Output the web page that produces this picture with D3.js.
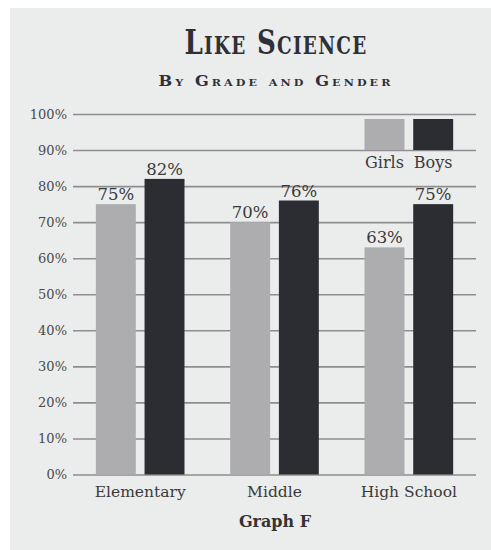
<!DOCTYPE html>
<html><head><meta charset="utf-8">
<script src="https://cdn.jsdelivr.net/npm/d3@7"></script>
<style>html,body{margin:0;padding:0;background:#fff;}svg{display:block;}</style>
</head><body>
<script>
const categories = ["Elementary", "Middle", "High School"];
const seriesNames = ["Girls", "Boys"];
const girls = [75, 70, 63];
const boys = [82, 76, 75];
const yTicks = [0, 10, 20, 30, 40, 50, 60, 70, 80, 90, 100];
const colors = {Girls: "#adadaf", Boys: "#2b2d33"};

const W = 491, H = 550;
const svg = d3.select("body").append("svg").attr("width", W).attr("height", H);
svg.append("rect").attr("x", 10).attr("y", 8).attr("width", W - 10).attr("height", H - 8).attr("fill", "#ebecec");

const x0 = d3.scaleBand().domain(categories).range([73, 476]).paddingInner(0.34).paddingOuter(0.17);
const x1 = d3.scaleBand().domain(seriesNames).range([0, x0.bandwidth()]).paddingInner(0.18);
const y = d3.scaleLinear().domain([0, 100]).range([474.5, 114]);

const serif = "'DejaVu Serif', serif";

// gridlines + tick labels via axis
const yAxis = d3.axisLeft(y).tickValues(yTicks).tickFormat(d => d + "%").tickSize(-(476 - 73)).tickPadding(6);
const gAx = svg.append("g").attr("transform", "translate(73,0)").call(yAxis);
gAx.select(".domain").remove();
gAx.selectAll(".tick line").attr("stroke", "#8e8e90").attr("stroke-width", 1.6);
gAx.selectAll(".tick text").attr("font-family", serif).attr("font-size", 13).attr("fill", "#4a4a4a").attr("x", -6);

// data rows
const rows = categories.map((c, i) => ({cat: c, vals: [{s: "Girls", v: girls[i]}, {s: "Boys", v: boys[i]}]}));
const grp = svg.append("g").selectAll("g").data(rows).join("g")
  .attr("transform", d => `translate(${x0(d.cat)},0)`);
grp.selectAll("rect").data(d => d.vals).join("rect")
  .attr("x", d => x1(d.s)).attr("width", x1.bandwidth())
  .attr("y", d => y(d.v)).attr("height", d => y(0) - y(d.v))
  .attr("fill", d => colors[d.s]);
grp.selectAll("text").data(d => d.vals).join("text")
  .attr("x", d => x1(d.s) + x1.bandwidth() / 2).attr("y", d => y(d.v) - 4)
  .attr("text-anchor", "middle").attr("font-family", serif).attr("font-size", 16.5)
  .attr("fill", "#3a3a3a").text(d => d.v + "%");

// x axis labels
const xAxis = d3.axisBottom(x0).tickSize(0).tickPadding(11);
const gX = svg.append("g").attr("transform", `translate(0,${y(0)})`).call(xAxis);
gX.select(".domain").remove();
gX.selectAll(".tick text").attr("font-family", serif).attr("font-size", 15.5).attr("fill", "#3a3a3a");

// legend
const lx = x0("High School");
const leg = svg.append("g").attr("transform", `translate(${lx},0)`);
seriesNames.forEach(s => {
  leg.append("rect").attr("x", x1(s)).attr("width", x1.bandwidth()).attr("y", 119).attr("height", y(90) - 119).attr("fill", colors[s]);
  leg.append("text").attr("x", x1(s) + x1.bandwidth() / 2).attr("y", 168).attr("text-anchor", "middle")
    .attr("font-family", serif).attr("font-size", 16).attr("fill", "#3a3a3a").text(s);
});

// titles in small caps
svg.append("text").attr("x", 276).attr("y", 54).attr("text-anchor", "middle")
  .attr("font-family", "'DejaVu Serif Condensed', 'DejaVu Serif', serif").attr("font-stretch", "condensed")
  .style("font-variant", "small-caps").attr("font-size", 34)
  .attr("font-weight", "bold").attr("fill", "#2f3037").attr("letter-spacing", 1.5)
  .attr("textLength", 183).attr("lengthAdjust", "spacingAndGlyphs")
  .text("Like Science");
svg.append("text").attr("x", 276).attr("y", 86).attr("text-anchor", "middle")
  .attr("font-family", "'DejaVu Serif Condensed', 'DejaVu Serif', serif").attr("font-stretch", "condensed")
  .style("font-variant", "small-caps").attr("font-size", 14.5)
  .attr("font-weight", "bold").attr("fill", "#2f3037").attr("letter-spacing", 2.5)
  .attr("textLength", 235).attr("lengthAdjust", "spacingAndGlyphs")
  .text("By Grade and Gender");

svg.append("text").attr("x", 275).attr("y", 527).attr("text-anchor", "middle")
  .attr("font-family", serif).attr("font-weight", "bold").attr("font-size", 16).attr("fill", "#333").text("Graph F");
</script>
</body></html>
